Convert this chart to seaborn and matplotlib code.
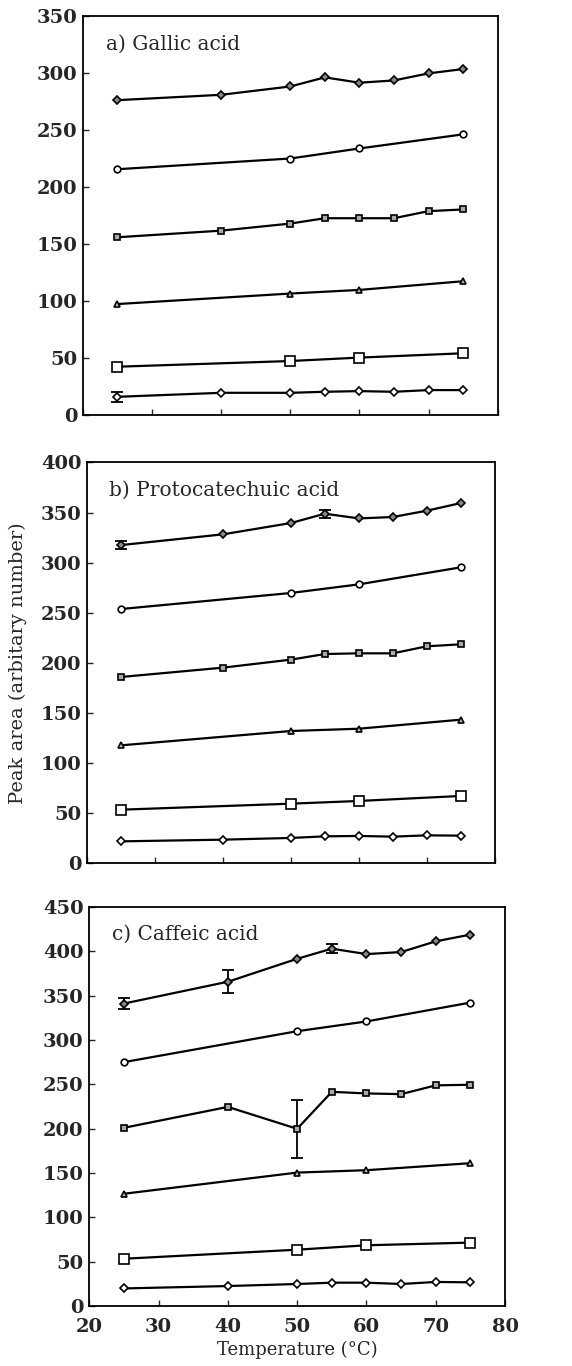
import numpy as np
import pandas as pd
import matplotlib
matplotlib.use("Agg")
import matplotlib.pyplot as plt
import seaborn as sns

sns.set_theme(style="ticks")
plt.rcParams['font.family'] = ['DejaVu Serif']

# ---------------- data ----------------
temps_full = [25, 40, 50, 55, 60, 65, 70, 75]
temps_part = [25, 50, 60, 75]

titles = ["a) Gallic acid", "b) Protocatechuic acid", "c) Caffeic acid"]
ymax = [350, 400, 450]

# Gallic acid
ga_s1 = [276.5, 281.2, 288.5, 296.5, 291.8, 293.8, 300.0, 303.8]
ga_s2 = [215.9, 225.3, 234.1, 246.5]
ga_s3 = [156.2, 162.0, 168.2, 172.9, 172.9, 172.9, 179.1, 180.6]
ga_s4 = [97.6, 106.8, 110.0, 117.6]
ga_s5 = [42.6, 47.6, 50.6, 54.4]
ga_s6 = [16.2, 19.7, 19.7, 20.6, 21.2, 20.6, 22.1, 22.1]

# Protocatechuic acid
pa_s1 = [317.5, 328.2, 339.5, 348.8, 344.1, 345.5, 351.8, 359.4]
pa_s2 = [253.7, 269.7, 278.3, 295.3]
pa_s3 = [185.9, 195.2, 203.2, 208.8, 209.5, 209.5, 216.5, 218.5]
pa_s4 = [117.7, 132.0, 134.3, 143.3]
pa_s5 = [53.5, 59.5, 62.2, 67.2]
pa_s6 = [21.9, 23.6, 25.3, 26.9, 27.3, 26.6, 27.9, 27.6]

# Caffeic acid
ca_s1 = [341.1, 365.7, 391.6, 403.0, 396.9, 399.2, 411.3, 418.9]
ca_s2 = [275.0, 309.9, 320.9, 342.2]
ca_s3 = [200.9, 224.5, 199.8, 241.5, 239.7, 238.9, 248.8, 249.5]
ca_s4 = [126.5, 150.4, 153.1, 161.0]
ca_s5 = [53.2, 63.4, 68.4, 71.4]
ca_s6 = [19.7, 22.4, 24.7, 26.2, 26.2, 24.7, 27.0, 26.6]

# error bars: (panel, series, temperature, half-width)
err_panel = [0, 1, 1, 2, 2, 2, 2]
err_series = ["s6", "s1", "s1", "s1", "s1", "s1", "s3"]
err_temp = [25, 25, 55, 25, 40, 55, 50]
err_half = [4.5, 4.0, 4.0, 6.6, 13.0, 5.0, 33.0]

panels = [
    [ga_s1, ga_s2, ga_s3, ga_s4, ga_s5, ga_s6],
    [pa_s1, pa_s2, pa_s3, pa_s4, pa_s5, pa_s6],
    [ca_s1, ca_s2, ca_s3, ca_s4, ca_s5, ca_s6],
]
series_names = ["s1", "s2", "s3", "s4", "s5", "s6"]
series_x = [temps_full, temps_part, temps_full, temps_part, temps_part, temps_full]

# ---------------- styling ----------------
marker_map = {"s1": "D", "s2": "o", "s3": "s", "s4": "^", "s5": "s", "s6": "D"}
face_map = {"s1": "#888888", "s2": "white", "s3": "#aaaaaa", "s4": "#bbbbbb",
            "s5": "white", "s6": "white"}
size_map = {"s1": 4.2, "s2": 4.8, "s3": 4.8, "s4": 5, "s5": 6.5, "s6": 4.2}

fig = plt.figure(figsize=(5.72, 13.66), dpi=100)
positions = [
    [0.145, 0.696, 0.725, 0.292],
    [0.152, 0.368, 0.713, 0.2935],
    [0.156, 0.044, 0.727, 0.292],
]

for p, (vals, title, ym, pos) in enumerate(zip(panels, titles, ymax, positions)):
    ax = fig.add_axes(pos)
    rows = []
    for name, xs, ys in zip(series_names, series_x, vals):
        for x, y in zip(xs, ys):
            rows.append({"Temperature": x, "Peak": y, "series": name})
    df = pd.DataFrame(rows)
    for name in series_names:
        sub = df[df["series"] == name]
        sns.lineplot(data=sub, x="Temperature", y="Peak", ax=ax, color="black",
                     linewidth=1.6, marker=marker_map[name],
                     markersize=size_map[name], markerfacecolor=face_map[name],
                     markeredgecolor="black", markeredgewidth=1.2,
                     legend=False, zorder=3)
    # error bars
    for ep, es, et, eh in zip(err_panel, err_series, err_temp, err_half):
        if ep != p:
            continue
        idx = series_names.index(es)
        xs = series_x[idx]
        yv = vals[idx][xs.index(et)]
        ax.errorbar([et], [yv], yerr=[eh], fmt="none", ecolor="black",
                    elinewidth=1.3, capsize=4, capthick=1.3, zorder=2)

    ax.set_xlim(20, 80)
    ax.set_ylim(0, ym)
    ax.set_xticks(range(20, 81, 10))
    ax.set_yticks(range(0, ym + 1, 50))
    ax.tick_params(direction="in", length=4, width=1, labelsize=14)
    ax.tick_params(axis="y", pad=4)
    ax.tick_params(axis="x", pad=9)
    for t in ax.get_yticklabels():
        t.set_fontweight("bold")
    if p < 2:
        ax.set_xticklabels([])
    else:
        for t in ax.get_xticklabels():
            t.set_fontweight("bold")
    for sp in ax.spines.values():
        sp.set_linewidth(1.3)
        sp.set_color("black")
    ax.set_xlabel("")
    ax.set_ylabel("")
    ax.text(0.055, 0.955, title, transform=ax.transAxes, fontsize=14.5,
            ha="left", va="top")
    if p == 2:
        ax.set_xlabel("Temperature (°C)", fontsize=13, labelpad=3)
    if p == 1:
        ax.set_ylabel("Peak area (arbitary number)", fontsize=14, labelpad=10)

fig.savefig("out.png", dpi=100)
